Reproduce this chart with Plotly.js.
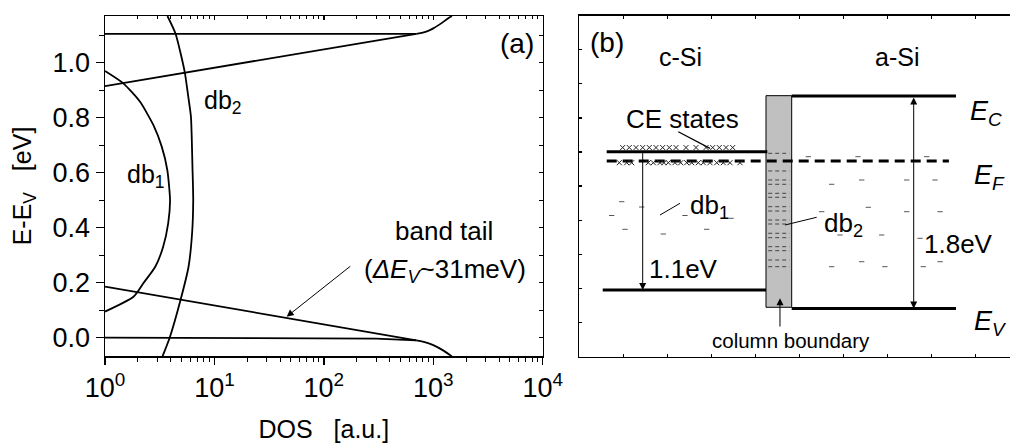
<!DOCTYPE html>
<html>
<head>
<meta charset="utf-8">
<script src="https://cdn.plot.ly/plotly-3.0.1.min.js"></script>
<style>
html, body { margin:0; padding:0; overflow:hidden; background:#fff; }
#chart { width:1025px; height:447px; }
</style>
</head>
<body>
<div id="chart"></div>
<script>
// ---------- Panel (a): DOS vs E-Ev ----------
const xTickVals = [1, 10, 100, 1000, 10000];
const xTickText = ['10<sup>0</sup>', '10<sup>1</sup>', '10<sup>2</sup>', '10<sup>3</sup>', '10<sup>4</sup>'];

const cbEdgeX = [1, 700];          const cbEdgeY = [1.105, 1.105];
const cbTailX = [1, 700];          const cbTailY = [0.915, 1.105];
const cbBandX = [700, 850, 1000, 1200, 1350, 1480];
const cbBandY = [1.105, 1.112, 1.125, 1.145, 1.16, 1.17];

const vbEdgeX = [1, 300, 700];     const vbEdgeY = [0.0, -0.003, -0.01];
const vbTailX = [1, 700];          const vbTailY = [0.186, -0.01];
const vbBandX = [700, 850, 1000, 1240, 1480];
const vbBandY = [-0.01, -0.017, -0.027, -0.047, -0.068];

const db1X = [1, 1.47, 2.09, 2.77, 3.30, 3.71, 3.93, 3.78, 3.40, 2.88, 2.24, 1.82, 1];
const db1Y = [0.97, 0.925, 0.858, 0.773, 0.695, 0.61, 0.5, 0.416, 0.331, 0.258, 0.198, 0.149, 0.095];

const db2X = [3.36, 3.9, 4.9, 5.8, 6.25, 6.4, 6.3, 6.1, 5.75, 5.35, 4.4, 3.72];
const db2Y = [-0.067, 0.0, 0.137, 0.258, 0.38, 0.5, 0.62, 0.804, 0.88, 0.967, 1.107, 1.17];

// ---------- Panel (b): band diagram (schematic units) ----------
const columnX = [4.243, 4.827];   const columnY = [1.448, 7.65];
const aSiX = [4.827, 8.561];      const aSiEc = 7.64;  const aSiEv = 1.41;
const cSiEcX = [0.623, 4.273];    const cSiEc = 6.008;
const cSiEvX = [0.532, 4.243];    const cSiEv = 1.955;
const fermiX = [0.623, 8.40];     const fermiY = 5.736;
const gapCx = 1.441;              const gapAx = 7.60;
const cePointerX = [2.25, 2.97];  const cePointerY = [6.594, 6.108];
const db1PointerX = [2.289, 1.834]; const db1PointerY = [4.496, 4.153];
const db2PointerX = [5.395, 4.675]; const db2PointerY = [4.086, 3.860];
const boundaryArrowX = 4.561;     const boundaryArrowY = [0.841, 1.712];

const ceTopX = [0.986, 1.136, 1.289, 1.441, 1.591, 1.743, 1.895, 2.045, 2.198, 2.425, 2.652, 2.880, 3.032, 3.182, 3.334, 3.486];
const ceTopY = 6.13;
const ceBotX = [0.909, 1.077, 1.191, 1.568, 1.682, 1.834, 1.925, 2.023, 2.175, 2.305, 2.441, 2.555, 2.705, 2.818, 2.970, 3.123, 3.273, 3.425, 3.652];
const ceBotY = 5.686;

const db1StatesX = [0.964, 1.418, 0.736, 2.402, 1.039, 1.909, 2.895, 3.448];
const db1StatesY = [4.543, 4.387, 4.138, 4.138, 3.734, 3.596, 3.734, 4.056];
const aSiStatesX = [5.205, 6.334, 7.895, 5.736, 6.418, 7.441, 8.084, 6.568, 7.441, 8.2, 5.509, 5.925, 6.873, 7.743, 5.736, 6.418, 6.945, 7.818, 8.2];
const aSiStatesY = [5.862, 5.862, 5.862, 5.053, 5.179, 5.179, 5.179, 4.379, 4.25, 4.25, 4.25, 3.567, 3.567, 3.470, 2.638, 2.784, 2.638, 2.638, 2.784];
const db2RowsY = [5.961, 5.443, 5.179, 5.053, 4.789, 4.672, 4.396, 4.270, 4.006, 3.889, 3.617, 3.488, 3.224, 3.107, 2.834, 2.638];

const panelBTicks = [1, 2, 3, 4, 5, 6, 7, 8, 9];

// ---------- build ----------
const W = 1025, H = 447;
const FONT = 'Liberation Sans, Arial, Helvetica, sans-serif';
const K = 'black';
const LW = 1.8;

function line(x, y, extra) {
  return Object.assign({x: x, y: y, mode: 'lines', type: 'scatter', hoverinfo: 'skip', showlegend: false,
    line: {color: K, width: LW}}, extra || {});
}

const traces = [];
// panel a
traces.push(line(cbEdgeX, cbEdgeY));
traces.push(line(cbTailX, cbTailY));
traces.push(line(cbBandX, cbBandY, {line: {color: K, width: LW, shape: 'spline'}}));
traces.push(line(vbEdgeX, vbEdgeY));
traces.push(line(vbTailX, vbTailY));
traces.push(line(vbBandX, vbBandY, {line: {color: K, width: LW, shape: 'spline'}}));
traces.push(line(db1X, db1Y, {line: {color: K, width: LW, shape: 'spline', smoothing: 0.6}}));
traces.push(line(db2X, db2Y, {line: {color: K, width: LW, shape: 'spline', smoothing: 0.6}}));
// empty trace to materialize mirror axes
traces.push({x: [], y: [], xaxis: 'x3', yaxis: 'y3', type: 'scatter', mode: 'lines', showlegend: false, hoverinfo: 'skip'});

// panel b
const b = {xaxis: 'x2', yaxis: 'y2'};
traces.push(Object.assign(line([columnX[0], columnX[1], columnX[1], columnX[0], columnX[0]],
  [columnY[0], columnY[0], columnY[1], columnY[1], columnY[0]],
  {fill: 'toself', fillcolor: '#c0c0c0', line: {color: K, width: 1}}), b));
// db2 states inside the column
(function () {
  const xs = [], ys = [];
  db2RowsY.forEach(function (y) { xs.push(columnX[0] + 0.05, columnX[1] - 0.05, null); ys.push(y, y, null); });
  traces.push(Object.assign(line(xs, ys, {line: {color: '#444', width: 1, dash: '4px,3px'}}), b));
})();
// scattered short dashes (db1 and a-Si states)
(function () {
  const xs = [], ys = [];
  const hw = 0.06;
  db1StatesX.forEach(function (x, i) { xs.push(x - hw, x + hw, null); ys.push(db1StatesY[i], db1StatesY[i], null); });
  aSiStatesX.forEach(function (x, i) { xs.push(x - hw, x + hw, null); ys.push(aSiStatesY[i], aSiStatesY[i], null); });
  traces.push(Object.assign(line(xs, ys, {line: {color: '#555', width: 1}}), b));
})();
traces.push(Object.assign(line(aSiX, [aSiEc, aSiEc], {line: {color: K, width: 3}}), b));
traces.push(Object.assign(line(aSiX, [aSiEv, aSiEv], {line: {color: K, width: 3}}), b));
traces.push(Object.assign(line(cSiEcX, [cSiEc, cSiEc], {line: {color: K, width: 3}}), b));
traces.push(Object.assign(line(cSiEvX, [cSiEv, cSiEv], {line: {color: K, width: 3}}), b));
traces.push(Object.assign(line(fermiX, [fermiY, fermiY], {line: {color: K, width: 3, dash: '10px,6px'}}), b));
traces.push(Object.assign(line(cePointerX, cePointerY, {line: {color: K, width: 1.3}}), b));
traces.push(Object.assign(line(db1PointerX, db1PointerY, {line: {color: K, width: 1}}), b));
traces.push(Object.assign(line(db2PointerX, db2PointerY, {line: {color: K, width: 1}}), b));
const xMarker = {symbol: 'x-thin-open', size: 5, color: '#222', line: {color: '#222', width: 1}};
traces.push(Object.assign({x: ceTopX, y: ceTopX.map(function () { return ceTopY; }), mode: 'markers', type: 'scatter',
  hoverinfo: 'skip', showlegend: false, marker: xMarker}, b));
traces.push(Object.assign({x: ceBotX, y: ceBotX.map(function () { return ceBotY; }), mode: 'markers', type: 'scatter',
  hoverinfo: 'skip', showlegend: false, marker: xMarker}, b));

const minorVals = [];
[1, 10, 100, 1000].forEach(function (d) { for (let k = 2; k <= 9; k++) minorVals.push(d * k); });

function ann(x, y, text, size, extra) {
  return Object.assign({x: x, y: y, xref: 'x', yref: 'y', text: text, showarrow: false,
    font: {family: FONT, size: size, color: K}, xanchor: 'center', yanchor: 'middle'}, extra || {});
}
function annB(x, y, text, size, extra) {
  return ann(x, y, text, size, Object.assign({xref: 'x2', yref: 'y2'}, extra || {}));
}
function arrowB(x, y, ax, ay, extra) {
  return Object.assign({x: x, y: y, ax: ax, ay: ay, xref: 'x2', yref: 'y2', axref: 'x2', ayref: 'y2',
    text: '', showarrow: true, arrowhead: 2, arrowsize: 1.4, arrowwidth: 1, arrowcolor: K, standoff: 0, startstandoff: 0}, extra || {});
}

const annotations = [
  ann(3.766, 1.0716, '(a)', 28),
  ann(0.884, 0.857, 'db<sub>2</sub>', 25, {xanchor: 'left'}),
  ann(0.183, 0.588, 'db<sub>1</sub>', 25, {xanchor: 'left'}),
  ann(3.099, 0.388, 'band tail', 26),
  ann(3.108, 0.246, '(<i>ΔE</i><sub><i>V</i></sub>~31meV)', 26),
  {x: 1.66, y: 0.0764, ax: 2.255, ay: 0.264, xref: 'x', yref: 'y', axref: 'x', ayref: 'y', text: '',
    showarrow: true, arrowhead: 2, arrowsize: 1.4, arrowwidth: 1, arrowcolor: K, standoff: 0},
  // panel b
  annB(0.623, 9.209, '(b)', 28),
  annB(2.289, 8.793, 'c-Si', 25),
  annB(7.214, 8.793, 'a-Si', 25),
  annB(2.345, 6.966, 'CE states', 26),
  annB(2.48, 4.40, 'db<sub>1</sub>', 26, {xanchor: 'left'}),
  annB(5.509, 3.87, 'db<sub>2</sub>', 26, {xanchor: 'left'}),
  annB(2.357, 2.57, '1.1eV', 26),
  annB(8.611, 3.303, '1.8eV', 26),
  annB(8.83, 7.15, '<i>E</i><sub><i>C</i></sub>', 27, {xanchor: 'left'}),
  annB(8.918, 5.28, '<i>E</i><sub><i>F</i></sub>', 27, {xanchor: 'left'}),
  annB(8.918, 0.98, '<i>E</i><sub><i>V</i></sub>', 27, {xanchor: 'left'}),
  annB(4.807, 0.489, 'column boundary', 20.5),
  arrowB(gapCx, cSiEv, gapCx, cSiEc),
  arrowB(gapAx, aSiEv, gapAx, aSiEc, {arrowside: 'end+start'}),
  arrowB(boundaryArrowX, boundaryArrowY[1], boundaryArrowX, boundaryArrowY[0])
];

const axA = {showgrid: false, zeroline: false, showline: true, linecolor: K, linewidth: 1.5, tickcolor: K, tickwidth: 1.3};
const yDomA = [(H - 356) / H, (H - 16) / H];
const yDomB = [(H - 356.7) / H, (H - 15.5) / H];

const layout = {
  width: W, height: H,
  margin: {l: 0, r: 0, t: 0, b: 0},
  paper_bgcolor: 'white', plot_bgcolor: 'white',
  font: {family: FONT, color: K},
  showlegend: false,
  xaxis: Object.assign({}, axA, {
    type: 'log', range: [0, 4], domain: [105 / W, 542.7 / W], anchor: 'y',
    tickmode: 'array', tickvals: xTickVals, ticktext: xTickText,
    ticks: 'outside', ticklen: 7, tickfont: {size: 27, family: FONT},
    minor: {tickmode: 'array', tickvals: minorVals, ticks: 'outside', ticklen: 4, tickwidth: 1, tickcolor: K, showgrid: false},
    title: {text: 'DOS\u00a0\u00a0\u00a0[a.u.]', font: {size: 25, family: FONT}, standoff: 18}
  }),
  yaxis: Object.assign({}, axA, {
    range: [-0.0665, 1.17], domain: yDomA, anchor: 'x',
    tick0: 0, dtick: 0.2, tickformat: '.1f', ticks: 'outside', ticklen: 8, tickfont: {size: 27, family: FONT},
    minor: {dtick: 0.1, ticks: 'outside', ticklen: 5, tickwidth: 1, tickcolor: K, showgrid: false},
    title: {text: 'E-E<sub>V</sub>\u00a0\u00a0\u00a0[eV]', font: {size: 25, family: FONT}, standoff: 14}
  }),
  xaxis3: Object.assign({}, axA, {
    type: 'log', range: [0, 4], overlaying: 'x', anchor: 'y', side: 'top',
    tickmode: 'array', tickvals: xTickVals, ticks: 'inside', ticklen: 4, showticklabels: false,
    minor: {tickmode: 'array', tickvals: minorVals, ticks: 'inside', ticklen: 3, tickwidth: 1, tickcolor: K, showgrid: false}
  }),
  yaxis3: Object.assign({}, axA, {
    range: [-0.0665, 1.17], overlaying: 'y', anchor: 'x', side: 'right',
    tick0: 0, dtick: 0.1, ticks: 'inside', ticklen: 4, showticklabels: false
  }),
  xaxis2: Object.assign({}, axA, {
    range: [0, 10], domain: [579.3 / W, 1019.3 / W], anchor: 'y2',
    tickmode: 'array', tickvals: panelBTicks, ticks: 'inside', ticklen: 3, mirror: 'allticks', showticklabels: false
  }),
  yaxis2: Object.assign({}, axA, {
    range: [0, 10], domain: yDomB, anchor: 'x2',
    tickmode: 'array', tickvals: panelBTicks, ticks: 'inside', ticklen: 3, mirror: 'allticks', showticklabels: false
  }),
  annotations: annotations
};

Plotly.newPlot('chart', traces, layout, {staticPlot: true, displayModeBar: false});
</script>
</body>
</html>
